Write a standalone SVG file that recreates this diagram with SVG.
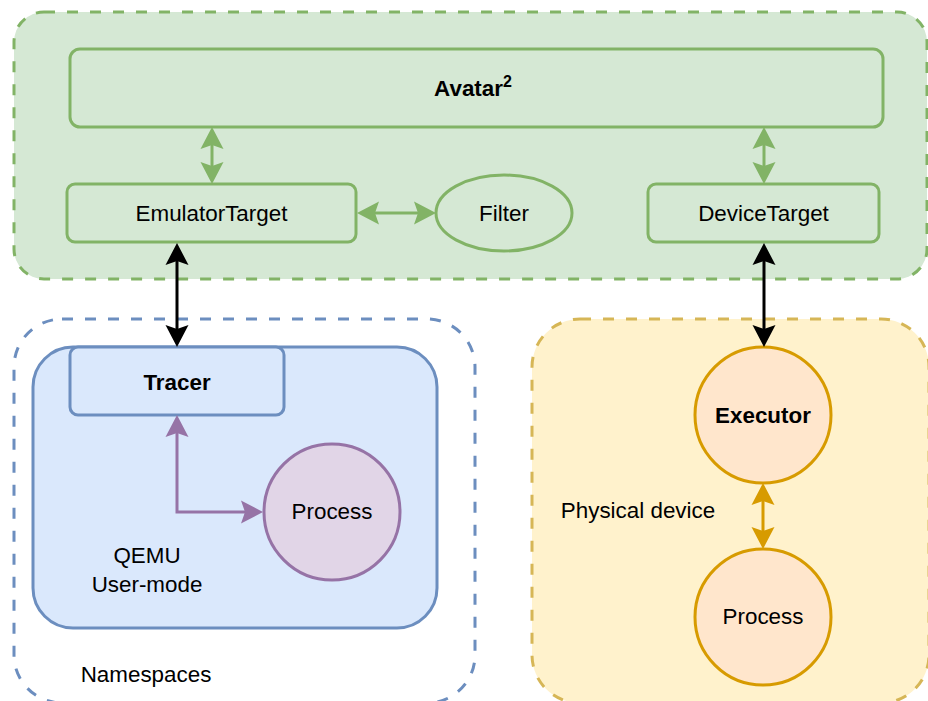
<svg xmlns="http://www.w3.org/2000/svg" width="928" height="701" viewBox="0 0 928 701">
<style>
text{font-family:"Liberation Sans",Arial,sans-serif;font-size:22.4px;fill:#000;text-anchor:middle}
.b{font-weight:bold}
.cont{stroke-width:3;stroke-dasharray:11 12}
.node{stroke-width:3}
.g{fill:#d5e8d4;stroke:#82b366}
.bl{fill:#dae8fc;stroke:#6c8ebf}
.pu{fill:#e1d5e7;stroke:#9673a6}
.ye{fill:#fff2cc;stroke:#d6b656}
.or{fill:#ffe6cc;stroke:#d79b00}
.e{fill:none;stroke-width:3}
</style>
<defs>
<marker id="ag" markerUnits="userSpaceOnUse" markerWidth="24" markerHeight="26" viewBox="0 -13 24 26" refX="6" refY="0" orient="auto-start-reverse"><path d="M22,0 L0,-11.5 L4,0 L0,11.5 Z" fill="#82b366"/></marker>
<marker id="ak" markerUnits="userSpaceOnUse" markerWidth="24" markerHeight="26" viewBox="0 -13 24 26" refX="6" refY="0" orient="auto-start-reverse"><path d="M22,0 L0,-11.5 L4,0 L0,11.5 Z" fill="#000"/></marker>
<marker id="ap" markerUnits="userSpaceOnUse" markerWidth="24" markerHeight="26" viewBox="0 -13 24 26" refX="6" refY="0" orient="auto-start-reverse"><path d="M22,0 L0,-11.5 L4,0 L0,11.5 Z" fill="#9673a6"/></marker>
<marker id="ao" markerUnits="userSpaceOnUse" markerWidth="24" markerHeight="26" viewBox="0 -13 24 26" refX="6" refY="0" orient="auto-start-reverse"><path d="M22,0 L0,-11.5 L4,0 L0,11.5 Z" fill="#d79b00"/></marker>
</defs>

<g id="avatar-container">
<rect class="cont g" x="14" y="12" width="913" height="267" rx="30"/>
</g>
<g id="namespaces">
<rect class="cont" x="14" y="319" width="461" height="384" rx="48" fill="#ffffff" stroke="#6c8ebf"/>
<text x="146" y="682">Namespaces</text>
</g>
<g id="physical-device">
<rect class="cont ye" x="532" y="319" width="397" height="384" rx="48"/>
<text x="638" y="518">Physical device</text>
</g>
<g id="qemu">
<rect class="node bl" x="33" y="347" width="404" height="281" rx="40"/>
<text x="147" y="563">QEMU</text>
<text x="147" y="592">User-mode</text>
</g>

<g id="avatar2">
<rect class="node g" x="70" y="49" width="813" height="78" rx="10"/>
<text class="b" x="473" y="96">Avatar<tspan font-size="16" dy="-9">2</tspan></text>
</g>
<g id="emulator-target">
<rect class="node g" x="67" y="184" width="289" height="58" rx="8"/>
<text x="211.5" y="221">EmulatorTarget</text>
</g>
<g id="filter">
<ellipse class="node g" cx="504" cy="213" rx="68" ry="38"/>
<text x="504" y="221">Filter</text>
</g>
<g id="device-target">
<rect class="node g" x="648" y="184" width="231" height="58" rx="8"/>
<text x="763.5" y="221">DeviceTarget</text>
</g>
<g id="tracer">
<rect class="node bl" x="70" y="347" width="214" height="68" rx="8"/>
<text class="b" x="177" y="390">Tracer</text>
</g>
<g id="process-qemu">
<circle class="node pu" cx="332" cy="512" r="68"/>
<text x="332" y="519">Process</text>
</g>
<g id="executor">
<circle class="node or" cx="763" cy="415" r="68"/>
<text class="b" x="763" y="423">Executor</text>
</g>
<g id="process-device">
<circle class="node or" cx="763" cy="617" r="68"/>
<text x="763" y="624">Process</text>
</g>

<g id="connectors">
<path class="e" stroke="#82b366" d="M212,143 L212,168" marker-start="url(#ag)" marker-end="url(#ag)"/>
<path class="e" stroke="#82b366" d="M764,143 L764,168" marker-start="url(#ag)" marker-end="url(#ag)"/>
<path class="e" stroke="#82b366" d="M373,213 L420,213" marker-start="url(#ag)" marker-end="url(#ag)"/>
<path class="e" stroke="#000" d="M177,259 L177,331" marker-start="url(#ak)" marker-end="url(#ak)"/>
<path class="e" stroke="#000" d="M764,259 L764,331" marker-start="url(#ak)" marker-end="url(#ak)"/>
<path class="e" stroke="#9673a6" d="M177,431 L177,512 L247,512" marker-start="url(#ap)" marker-end="url(#ap)"/>
<path class="e" stroke="#d79b00" d="M763,499 L763,533" marker-start="url(#ao)" marker-end="url(#ao)"/>
</g>
</svg>
